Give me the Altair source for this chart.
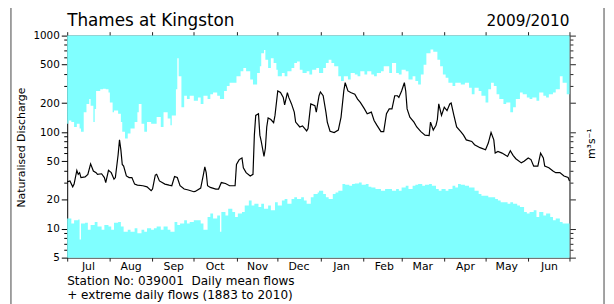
import altair as alt
import pandas as pd

# ---------------- data ----------------
month_names = ["Jul", "Aug", "Sep", "Oct", "Nov", "Dec", "Jan", "Feb", "Mar", "Apr", "May", "Jun"]
month_lengths = [31, 31, 30, 31, 30, 31, 31, 28, 31, 30, 31, 30]

# daily mean flow 2009/2010 (day offset from 1 Jul 2009, m3/s)
flow_day = [0, 2, 4, 5, 7, 8, 9, 10, 13, 15, 17, 19, 21, 22, 25, 27, 28, 30, 32, 34, 35, 37, 38, 39, 40, 41,
            43, 45, 47, 49, 51, 55, 58, 61, 62, 64, 65, 67, 69, 71, 74, 76, 78, 80, 82, 85, 88, 92,
            93, 97, 99, 100, 101, 102, 104, 108, 110, 112, 115, 118, 122, 123, 125, 127, 128, 130, 133, 135,
            136, 137, 139, 140, 141, 143, 144, 145, 146, 148, 150, 151, 153, 155, 157, 158, 160, 161, 163,
            165, 166, 169, 171, 174, 175, 177, 180, 181, 183,
            184, 186, 188, 189, 191, 194, 197, 199, 201, 202, 204, 206, 209, 211, 213, 216, 218, 221, 223,
            225, 228, 230, 232, 234, 236, 238, 240, 241, 243, 245, 246, 247, 249, 252, 254, 257, 260, 263,
            264, 266, 268, 269, 270, 272, 274,
            276, 278, 279, 281, 283, 286, 288, 290, 294, 296, 300, 304, 306, 308, 310, 311, 313, 316, 318,
            320, 322, 324, 326, 330, 332, 335, 337, 339, 342, 344, 346, 347, 350, 353, 355, 358, 361, 364, 365]
flow_val = [30.5, 31.2, 27.1, 28.9, 40.1, 36.5, 38, 33.8, 34.3, 36.5, 46.9, 39.5, 38, 36.5, 37, 33.8, 30, 40.1,
            38, 32.5, 33.8, 58.3, 83, 65.5, 46.2, 44.4,
            35.1, 33.8, 33.8, 28.9, 28.2, 27.8, 27.1, 24.7, 25.7, 35.9, 36.5, 31.2, 30, 28.9, 28.2, 27.8, 34.6,
            33.8, 27.8, 25.7, 25.1, 24.1,
            24.3, 26.3, 36.5, 43.7, 38, 27.8, 26.7, 25.7, 25.7, 30, 29.3, 27.8, 27.8, 46.2, 51.9, 54, 42.7, 38,
            35.1, 36.5,
            93, 149, 155, 93, 80, 56, 68, 113, 140, 135, 125, 149, 267, 257, 229, 191, 257, 229, 196,
            161, 127, 113, 116, 103, 109, 196, 188, 161, 238,
            261, 238, 161, 127, 102, 99, 105, 143, 267, 325, 267, 257, 247, 220, 203, 174, 155, 161, 132,
            118, 101, 101, 155, 174, 174, 238, 238, 229, 267, 325, 267, 174, 143, 127, 113, 101, 93, 92,
            127, 105, 118, 135, 196, 149, 181,
            167, 196, 200, 149, 113, 101, 93, 83, 80, 74, 69, 65.5, 77, 99, 83, 60.6, 63, 60.6, 58.3,
            56, 64, 57.4, 53, 48, 49.9, 54, 51.9, 44.4, 44.4, 60.6, 54, 44.4, 42.7, 39.5, 38, 38, 35.1, 33.8, 31.2]

# highest daily flows on record (1883 to 2010)
max_day = [0, 1, 3, 5, 7, 9, 10, 12, 14, 16, 17, 19, 20, 21, 24, 26, 28, 30, 31, 33, 34, 37, 39, 40, 42, 44,
           46, 49, 51, 52, 54, 56, 58, 61, 63, 65, 68, 70, 73, 75, 76, 79, 80, 81, 83, 85, 87, 89, 92,
           95, 97, 99, 102, 104, 106, 109, 111, 114, 116, 118, 121, 123, 126, 128, 130, 133, 135, 138, 140,
           141, 143, 144, 146, 148, 150, 152, 153, 156, 158, 160, 163, 165, 167, 169, 171, 174, 176, 178,
           181, 183,
           186, 188, 190, 192, 194, 197, 199, 201, 204, 206, 209, 211, 213, 216, 218, 221, 223, 225, 228,
           230, 232, 234, 236, 239, 241, 243, 246, 248, 251, 253, 255, 257, 259, 261, 264, 266, 269, 271,
           273, 275,
           277, 280, 282, 284, 286, 289, 292, 294, 296, 299, 301, 304, 306, 308, 310, 312, 314, 317, 319,
           322, 324, 326, 329, 331, 334, 336, 338, 341, 343, 346, 348, 350, 353, 355, 358, 360, 363, 365]
max_val = [122, 132, 127, 113, 122, 109, 101, 161, 196, 220, 188, 127, 174, 267, 278, 282, 278, 257, 203, 161,
           167, 155, 127, 101, 86, 97,
           109, 127, 161, 196, 122, 101, 127, 122, 122, 143, 113, 161, 138, 118, 149, 278, 583, 380, 181, 238,
           220, 238, 211,
           229, 196, 238, 220, 247, 257, 238, 220, 267, 301, 325, 325, 380, 427, 461, 427, 351, 312, 410, 480,
           656, 709, 561, 461, 583, 519, 444, 380, 410, 380, 427, 461, 519, 540, 444, 410, 427, 395, 444,
           461, 410,
           461, 519, 561, 519, 480, 380, 338, 380, 351, 410, 395, 380, 427, 395, 427, 395, 380, 410, 427,
           480, 480, 410, 519, 410, 395, 444, 427, 351, 380, 338, 312, 395, 499, 656, 720, 682, 561, 480,
           395, 365,
           325, 301, 325, 325, 312, 325, 289, 247, 289, 267, 238, 203, 278, 325, 301, 247, 220, 196, 203,
           161, 181, 220, 257, 247, 229, 220, 229, 211, 257, 238, 229, 247, 257, 278, 380, 325, 247, 149]

# lowest daily flows on record (1883 to 2010)
min_day = [0, 3, 5, 8, 9, 10, 13, 15, 17, 20, 22, 25, 27, 30, 32, 34, 37, 39, 41, 44, 46, 49, 51, 54, 56, 58,
           61, 63, 65, 68, 70, 73, 75, 78, 80, 82, 85, 87, 89, 92,
           95, 97, 99, 102, 104, 106, 109, 111, 112, 115, 117, 120, 122, 124, 127, 129, 132, 134, 136, 139,
           141, 143, 146, 148, 151, 153, 156, 158, 160, 163, 165, 167, 170, 172, 174, 177, 179, 182,
           183, 186, 188, 190, 193, 195, 197, 200, 202, 205, 207, 209, 212, 214, 217, 219, 221, 224, 226,
           228, 231, 233, 236, 239, 241, 243, 246, 248, 251, 253, 255, 258, 260, 263, 265, 268, 270, 272, 275,
           277, 280, 282, 284, 286, 289, 292, 294, 296, 299, 301, 304, 306, 308, 311, 313, 315, 317, 320,
           322, 324, 327, 329, 332, 334, 336, 339, 341, 343, 346, 348, 351, 353, 355, 358, 360, 363, 365]
min_val = [12.7, 11.3, 12.2, 12.4, 7.7, 11.3, 11.5, 9.7, 10.9, 11.7, 10.5, 9.7, 10.9, 10.5, 9.7, 11.5, 11.7,
           10.5, 9.3, 9.7, 9.3, 10.1, 8.95, 9.7, 9.3, 10.1,
           9.7, 10.1, 10.5, 9.7, 10.5, 9.7, 9.3, 11.7, 10.9, 11.3, 12.2, 11.3, 11.7, 12.2,
           12.2, 11.3, 9.7, 13.2, 14.3, 12.7, 13.7, 9.3, 14.9, 13.7, 16.1, 14.9, 13.2, 14.3, 14.9, 17.4,
           19.5, 17.4, 18.1, 16.7,
           18.1, 16.1, 17.4, 15.5, 18.8, 17.4, 19.5, 20.3, 18.1, 20.3, 21.1, 20.3, 21.1, 19.5, 18.1, 21.1,
           22.8, 23.7,
           24.7, 22.8, 21.1, 20.3, 22.8, 23.7, 24.7, 28.9, 28.5, 27.8, 28.9, 29.3, 30, 28.5, 28.9, 27.1,
           26.7, 25.7, 25.7,
           24.7, 25.7, 25.7, 24.7, 25.7, 24.7, 26.7, 27.8, 25.7, 27.8, 28.5, 28.9, 27.8, 28.5, 28.9, 27.8,
           25.7, 24.7, 25.7, 24.7,
           25.7, 27.8, 26.7, 28.9, 28.5, 27.8, 26.7, 26.7, 24.7, 22.8, 21.9, 21.9, 21.1, 21.1, 20.3, 19.5,
           18.8, 18.8, 18.1,
           18.8, 18.1, 17.4, 16.7, 14.9, 14.3, 14.9, 15.5, 13.2, 14.9, 13.7, 14.3, 13.2, 12.2, 12.7, 11.7,
           11.3, 11.3, 12.7]

y_major = [5, 10, 20, 50, 100, 200, 500, 1000]
y_minor = [6, 7, 8, 9, 30, 40, 60, 70, 80, 90, 300, 400, 600, 700, 800, 900]

title_text = "Thames at Kingston"
year_text = "2009/2010"
footer_lines = ["Station No: 039001\u00a0\u00a0Daily mean flows", "+ extreme daily flows (1883 to 2010)"]
y_title = "Naturalised Discharge"
unit_text = "m\u00b3s\u207b\u00b9"

# ---------------- chart ----------------
CYAN = "#80FFFF"
FONT = "DejaVu Sans"
AXC = "#222222"
W, H = 509, 225

df_flow = pd.DataFrame({"day": flow_day, "val": flow_val})
df_max = pd.DataFrame({"day": max_day, "val": max_val})
df_min = pd.DataFrame({"day": min_day, "val": min_val})
dummy = pd.DataFrame({"k": [0]})

month_starts = [0]
for L in month_lengths:
    month_starts.append(month_starts[-1] + L)
names_js = "[" + ",".join("'%s'" % m for m in month_names) + "]"
starts_js = "[" + ",".join(str(s) for s in month_starts[:-1]) + "]"
x_label_expr = "datum.value >= %d ? '' : %s[indexof(%s, datum.value)]" % (month_starts[-1], names_js, starts_js)

major_js = "[" + ",".join(str(v) for v in y_major) + "]"
is_major = "indexof(%s, datum.value) >= 0" % major_js
y_values = sorted(y_major + y_minor)
tick_cond = {"condition": {"test": is_major, "value": 6}, "value": 3.5}

xs = alt.Scale(domain=[0, month_starts[-1]], nice=False, zero=False)
ys = alt.Scale(type="log", domain=[y_major[0], y_major[-1]], nice=False)

bottom_axis = alt.Axis(values=month_starts, labelExpr=x_label_expr, title=None, tickSize=3.5,
                       labelOffset=21, labelAlign="center", labelFlush=False, labelPadding=0,
                       labelFont=FONT, labelFontSize=11, labelColor="black", labelOverlap=False,
                       domainColor=AXC, tickColor=AXC, grid=False)
top_axis = alt.Axis(orient="top", values=month_starts, labels=False, title=None, tickSize=4,
                    domainColor=AXC, tickColor=AXC, grid=False)
left_axis = alt.Axis(values=y_values, format="d", labelExpr="%s ? datum.label : ''" % is_major,
                     tickSize=tick_cond, title=None, labelFont=FONT, labelFontSize=10.5,
                     labelColor="black", labelPadding=2, labelOverlap=False, labelFlush=False,
                     domainColor="black", tickColor="black", grid=False)
right_axis = alt.Axis(orient="right", values=y_values, labels=False, tickSize=tick_cond, title=None,
                      domainColor="#555555", domainWidth=1.5, tickColor=AXC, grid=False)

upper = alt.Chart(df_max).mark_area(color=CYAN, interpolate="step-after").encode(
    x=alt.X("day:Q", scale=xs, axis=bottom_axis),
    y=alt.Y("val:Q", scale=ys, axis=left_axis),
    y2=alt.datum(y_major[-1]),
)
lower = alt.Chart(df_min).mark_area(color=CYAN, interpolate="step-after").encode(
    x=alt.X("day:Q", scale=xs, axis=top_axis),
    y=alt.Y("val:Q", scale=ys, axis=right_axis),
    y2=alt.datum(y_major[0]),
)
line = alt.Chart(df_flow).mark_line(color="black", strokeWidth=1.2).encode(
    x=alt.X("day:Q", scale=xs, axis=None),
    y=alt.Y("val:Q", scale=ys, axis=None),
)


def label(text, x, y, size, align="left", angle=0, baseline="alphabetic"):
    return alt.Chart(dummy).mark_text(text=text, align=align, baseline=baseline, angle=angle,
                                      font=FONT, fontSize=size, color="black").encode(
        x=alt.value(x), y=alt.value(y))


t_title = label(title_text, 0, -10, 17)
t_year = label(year_text, W, -10, 15.5, align="right")
t_f1 = label(footer_lines[0], 0, 252.6, 12.2)
t_f2 = label(footer_lines[1], 0, 266.9, 12.2)
t_ytitle = label(y_title, -46, H / 2 + 1, 11, align="center", angle=270, baseline="middle")
t_unit = label(unit_text, 532, H / 2 - 3, 11, align="center", angle=270, baseline="middle")

frame = alt.Chart(dummy).mark_rect(filled=False, stroke="#444444", strokeWidth=1).encode(
    x=alt.value(-57), x2=alt.value(544), y=alt.value(-30), y2=alt.value(300))

chart = alt.layer(upper, lower, line, t_title, t_year, t_f1, t_f2, t_ytitle, t_unit, frame).resolve_axis(
    x="independent", y="independent"
).properties(
    width=W, height=H,
    autosize=alt.AutoSizeParams(type="none"),
    padding={"left": 60, "top": 26, "right": 37, "bottom": 45},
).configure_view(stroke=None)

chart.save("out.html", embed_options={"renderer": "svg", "actions": False})
